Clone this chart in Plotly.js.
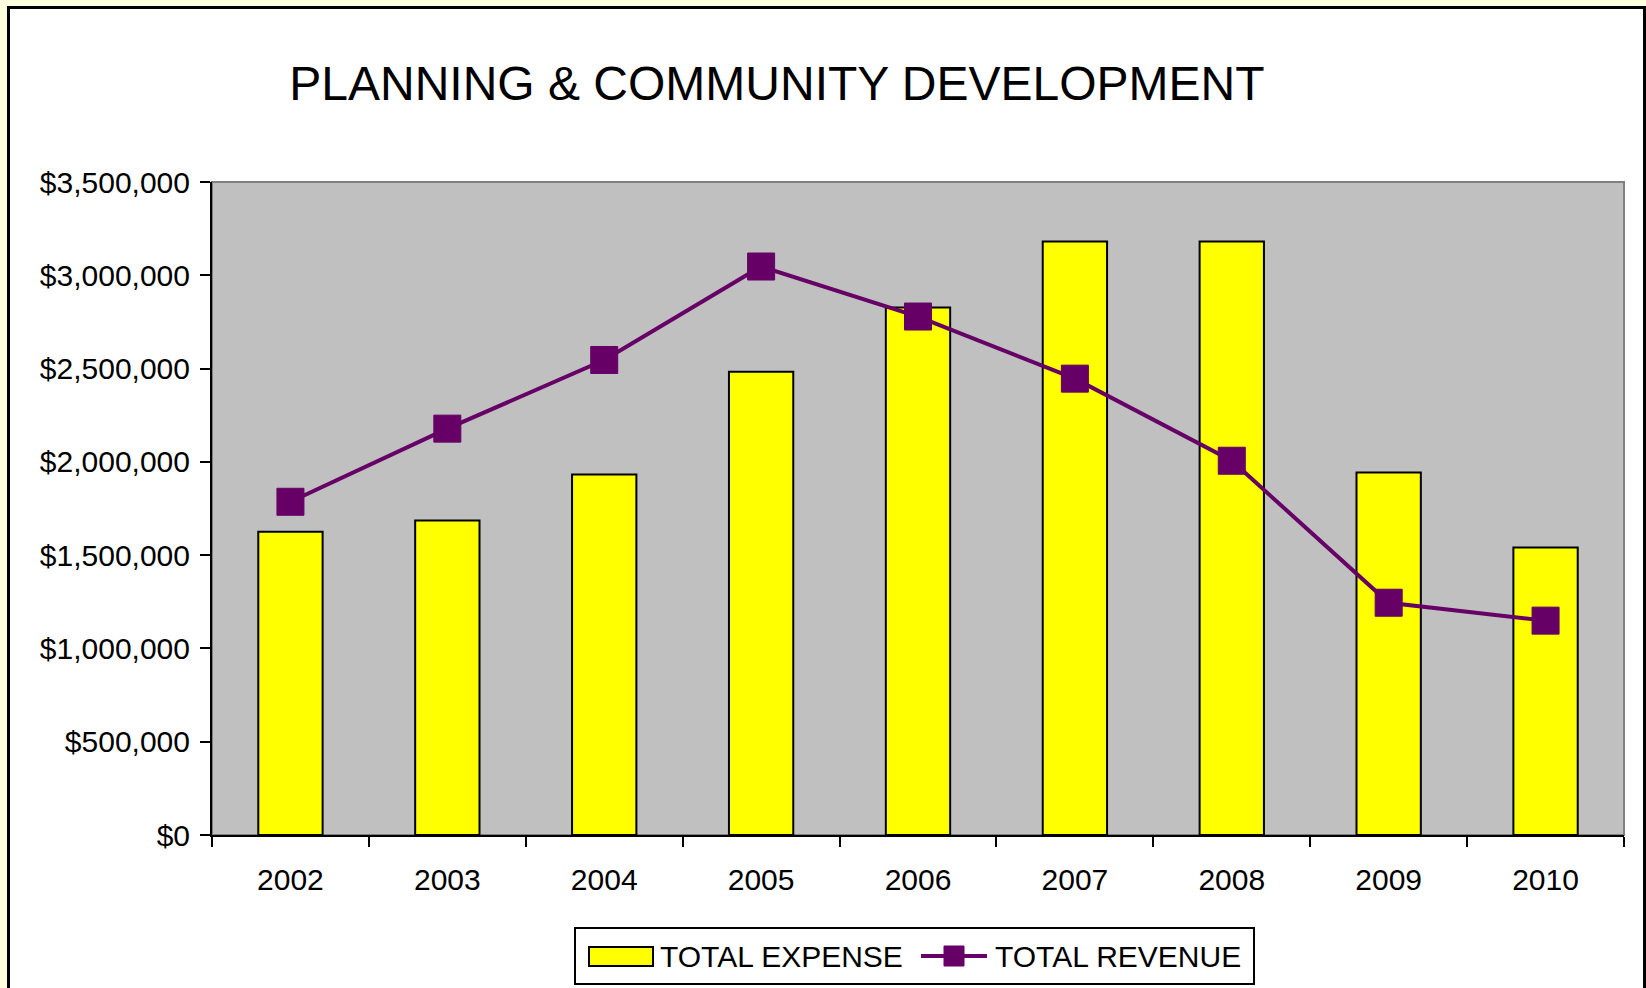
<!DOCTYPE html>
<html>
<head>
<meta charset="utf-8">
<script src="https://cdn.plot.ly/plotly-3.0.1.min.js"></script>
<style>
  html, body { margin: 0; padding: 0; background: #FFFFE0; width: 1646px; height: 988px; overflow: hidden; }
  #frame { position: absolute; left: 7px; top: 6px; width: 1633px; height: 1000px; background: #ffffff;
           border-left: 3px solid #000; border-top: 3px solid #000; border-right: 3px solid #000; }
  #chart { position: absolute; left: 0; top: 0; width: 1646px; height: 988px; }
</style>
</head>
<body>
<div id="frame"></div>
<div id="chart"></div>
<script>
const years = ['2002', '2003', '2004', '2005', '2006', '2007', '2008', '2009', '2010'];
const totalExpense = [1626000, 1686000, 1932000, 2483000, 2827000, 3181000, 3181000, 1943000, 1541000];
const totalRevenue = [1786000, 2178000, 2546000, 3047000, 2779000, 2446000, 2006000, 1245000, 1149000];
const titleText = 'PLANNING &amp; COMMUNITY DEVELOPMENT';
const seriesNames = ['TOTAL EXPENSE', 'TOTAL REVENUE'];

const font = 'Liberation Sans, Arial, sans-serif';
const W = 1646, H = 988;
const M = { l: 212, r: 22, t: 182, b: 153 };
const expenseColor = '#FFFF00';
const revenueColor = '#660066';

// pixel -> paper helpers (for the legend decoration only)
const pw = W - M.l - M.r, ph = H - M.t - M.b;
const px = v => (v - M.l) / pw;
const py = v => (H - M.b - v) / ph;

const traces = [
  {
    type: 'bar',
    name: seriesNames[0],
    x: years,
    y: totalExpense,
    marker: { color: expenseColor, line: { color: '#000000', width: 2 } },
    showlegend: false
  },
  {
    type: 'scatter',
    mode: 'lines+markers',
    name: seriesNames[1],
    x: years,
    y: totalRevenue,
    line: { color: revenueColor, width: 4 },
    marker: { symbol: 'square', size: 27, color: revenueColor, line: { color: revenueColor, width: 1 } },
    showlegend: false
  }
];

const legendShapes = [
  { type: 'rect', xref: 'paper', yref: 'paper', x0: px(575), x1: px(1254), y0: py(928), y1: py(984),
    line: { color: '#000000', width: 2 }, fillcolor: '#ffffff', layer: 'above' },
  { type: 'rect', xref: 'paper', yref: 'paper', x0: px(589), x1: px(653), y0: py(947), y1: py(966),
    line: { color: '#000000', width: 2 }, fillcolor: expenseColor, layer: 'above' },
  { type: 'line', xref: 'paper', yref: 'paper', x0: px(921), x1: px(987), y0: py(956), y1: py(956),
    line: { color: revenueColor, width: 4 }, layer: 'above' },
  { type: 'rect', xref: 'paper', yref: 'paper', x0: px(944), x1: px(964), y0: py(946), y1: py(966),
    line: { color: revenueColor, width: 1 }, fillcolor: revenueColor, layer: 'above' }
];

const legendTexts = [
  { text: seriesNames[0], xref: 'paper', yref: 'paper', x: px(658), y: py(956),
    xanchor: 'left', yanchor: 'middle', showarrow: false,
    font: { family: font, size: 30, color: '#000000' } },
  { text: seriesNames[1], xref: 'paper', yref: 'paper', x: px(993), y: py(956),
    xanchor: 'left', yanchor: 'middle', showarrow: false,
    font: { family: font, size: 30, color: '#000000' } }
];

const layout = {
  width: W,
  height: H,
  paper_bgcolor: 'rgba(0,0,0,0)',
  plot_bgcolor: '#C0C0C0',
  margin: { l: M.l, r: M.r, t: M.t, b: M.b, pad: 0 },
  font: { family: font, size: 30, color: '#000000' },
  title: {
    text: titleText,
    font: { family: font, size: 48, color: '#000000' },
    xref: 'container', x: 0.472, xanchor: 'center',
    yref: 'container', y: 0.916, yanchor: 'middle'
  },
  bargap: 0.59,
  showlegend: false,
  xaxis: {
    type: 'category',
    range: [-0.5, years.length - 0.5],
    autorange: false,
    showgrid: false,
    showline: true,
    linecolor: '#000000',
    linewidth: 2,
    ticks: 'outside',
    tickson: 'boundaries',
    ticklen: 10,
    tickwidth: 2,
    tickcolor: '#000000',
    ticklabelstandoff: 17,
    tickfont: { family: font, size: 30, color: '#000000' },
    zeroline: false
  },
  yaxis: {
    range: [0, 3500000],
    autorange: false,
    dtick: 500000,
    tick0: 0,
    tickprefix: '$',
    tickformat: ',.0f',
    showgrid: false,
    showline: true,
    linecolor: '#000000',
    linewidth: 2,
    ticks: 'outside',
    ticklen: 10,
    tickwidth: 2,
    tickcolor: '#000000',
    ticklabelstandoff: 4,
    tickfont: { family: font, size: 30, color: '#000000' },
    zeroline: false
  },
  shapes: [
    { type: 'rect', xref: 'paper', yref: 'paper', x0: 0, x1: 1, y0: 0, y1: 1,
      line: { color: '#808080', width: 2 }, fillcolor: 'rgba(0,0,0,0)', layer: 'below' }
  ].concat(legendShapes),
  annotations: legendTexts
};

Plotly.newPlot('chart', traces, layout, { displayModeBar: false, staticPlot: true });
</script>
</body>
</html>
